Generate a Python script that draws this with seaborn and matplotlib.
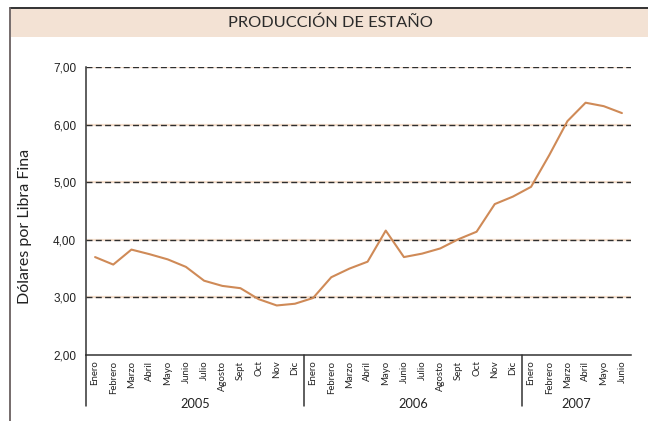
import matplotlib
matplotlib.use("Agg")
import matplotlib.pyplot as plt
import matplotlib.transforms as mtrans
from matplotlib.lines import Line2D
from matplotlib.patches import Rectangle
import seaborn as sns
import pandas as pd
import numpy as np

title = "PRODUCCIÓN DE ESTAÑO"
ylabel = "Dólares por Libra Fina"
months_2005 = ["Enero", "Febrero", "Marzo", "Abril", "Mayo", "Junio", "Julio",
               "Agosto", "Sept", "Oct", "Nov", "Dic"]
months_2006 = ["Enero", "Febrero", "Marzo", "Abril", "Mayo", "Junio", "Julio",
               "Agosto", "Sept", "Oct", "Nov", "Dic"]
months_2007 = ["Enero", "Febrero", "Marzo", "Abril", "Mayo", "Junio"]
years = ["2005", "2006", "2007"]
values_2005 = [3.70, 3.57, 3.83, 3.75, 3.66, 3.53, 3.29, 3.20, 3.16, 2.97, 2.86, 2.89]
values_2006 = [2.99, 3.35, 3.50, 3.62, 4.16, 3.70, 3.76, 3.85, 4.01, 4.14, 4.62, 4.75]
values_2007 = [4.92, 5.47, 6.06, 6.38, 6.32, 6.20]
yticks = [2, 3, 4, 5, 6, 7]
ytick_labels = ["2,00", "3,00", "4,00", "5,00", "6,00", "7,00"]

groups = [months_2005, months_2006, months_2007]
vals = [values_2005, values_2006, values_2007]
rows = []
for yr, ms, vs in zip(years, groups, vals):
    for m, v in zip(ms, vs):
        rows.append({"year": yr, "month": m, "value": v})
df = pd.DataFrame(rows)
df["pos"] = np.arange(len(df))

sns.set_theme(style="white")
plt.rcParams["font.family"] = ["Lato", "DejaVu Sans"]

W, H = 648, 421
fig = plt.figure(figsize=(W / 100, H / 100), dpi=100)
fig.patch.set_facecolor("white")

# frame and title band
fig.add_artist(Rectangle((11 / W, 1 - 37 / H), 1 - 11 / W, 28 / H,
                         transform=fig.transFigure, facecolor="#f3e2d4",
                         edgecolor="none", zorder=0))
fig.add_artist(Line2D([10 / W, 1], [1 - 8 / H, 1 - 8 / H], transform=fig.transFigure,
                      color="#222222", lw=1.3))
fig.add_artist(Line2D([10 / W, 10 / W], [0, 1 - 8 / H], transform=fig.transFigure,
                      color="#6a6060", lw=1.3))
fig.text(330 / W, 1 - 23 / H, title, ha="center", va="center", fontsize=11.8,
         color="#2b2b2b")

left, right = 86 / W, 631 / W
bottom, top = (H - 355) / H, (H - 67) / H
ax = fig.add_axes([left, bottom, right - left, top - bottom])
ax.set_facecolor("white")

n = len(df)
ax.set_xlim(-0.5, n - 0.5)
ax.set_ylim(2, 7)

# gridlines
for yv in yticks[1:]:
    ax.axhline(yv, color="#f6e0ce", lw=1.6, zorder=1)
    ax.axhline(yv, color="#2e2e2e", lw=1.0, linestyle=(0, (4.3, 2.4)), zorder=2)

sns.lineplot(data=df, x="pos", y="value", ax=ax, color="#cf8a57", lw=1.5,
             zorder=3, legend=False)

for s in ["top", "right"]:
    ax.spines[s].set_visible(False)
for s in ["left", "bottom"]:
    ax.spines[s].set_color("#333333")
    ax.spines[s].set_linewidth(1.1)
ax.spines["left"].set_bounds(2, 7)

ax.set_yticks(yticks)
ax.set_yticklabels(ytick_labels, fontsize=8.5, color="#222222",
                   fontfamily=["Liberation Sans", "DejaVu Sans"])
ax.tick_params(axis="y", direction="inout", length=8, width=1.0, color="#333333", pad=3)

ax.set_xticks(df["pos"].values)
ax.set_xticklabels(df["month"].values, rotation=90, fontsize=6.9, color="#222222")
ax.tick_params(axis="x", which="major", length=0, pad=4)
ax.set_xticks(np.arange(n + 1) - 0.5, minor=True)
ax.tick_params(axis="x", which="minor", direction="inout", length=8, width=1.0,
               color="#333333")
ax.set_xlabel("")
ax.set_ylabel(ylabel, fontsize=11.5, color="#222222")
ax.yaxis.set_label_coords((32 - 86) / (631 - 86), (355 - 226) / (355 - 67))

# group separators and year labels
trans = mtrans.blended_transform_factory(ax.transData, ax.transAxes)
sep_bottom = (355 - 406) / (355 - 67)
start = 0
for yr, ms in zip(years, groups):
    ax.plot([start - 0.5, start - 0.5], [0, sep_bottom], transform=trans,
            color="#333333", lw=1.1, clip_on=False)
    center = start + (len(ms) - 1) / 2
    ax.text(center, (355 - 404) / (355 - 67), yr, transform=trans, ha="center",
            va="center", fontsize=9.2, color="#222222")
    start += len(ms)

fig.savefig("out.png", dpi=100, facecolor="white")
